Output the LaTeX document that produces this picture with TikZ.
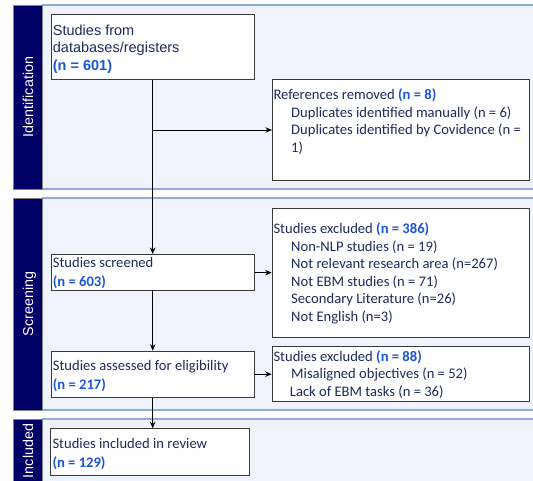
\documentclass[tikz,border=0pt]{standalone}
\usepackage{fontspec}
\setmainfont{Carlito}
\newfontfamily\arialf{Liberation Sans}
\usetikzlibrary{arrows.meta}
\definecolor{navy}{HTML}{000066}
\definecolor{txtc}{HTML}{1F2A5C}
\definecolor{numc}{HTML}{1A56DB}
\definecolor{panelfill}{HTML}{EFF4FC}
\definecolor{panelline}{HTML}{8FAADC}
\definecolor{boxline}{HTML}{3A3A3A}
\newcommand{\nb}[1]{\textbf{\color{numc}#1}}
\newcommand{\fs}{\rule{0pt}{12pt}}
\newcommand{\ind}{\hspace*{17.7pt}}
\begin{document}
\begin{tikzpicture}[x=1pt,y=-1pt,
  panel/.style={fill=panelfill,draw=none},
  pline/.style={draw=panelline,line width=1.2pt},
  side/.style={fill=navy,draw=gray,line width=0.6pt},
  sidelabel/.style={rotate=90,text=white,font=\arialf\fontsize{14.3}{17}\selectfont,text height=10.3pt,text depth=0pt,inner sep=0pt},
  box/.style={draw=boxline,fill=white,line width=1pt,anchor=north west,inner sep=0pt},
  txt/.style={anchor=north west,inner sep=0pt,align=left,text=txtc,font=\fontsize{14.6}{17.5}\selectfont},
  txttwo/.style={txt,font=\fontsize{14.6}{19}\selectfont},
  arialtxt/.style={txt,font=\arialf\fontsize{14.5}{17.5}\selectfont},
  arr/.style={draw=black,line width=0.9pt,-{Stealth[length=6.5pt,width=5.5pt]}}]
\useasboundingbox (0,0) rectangle (533,481);
% panels
\fill[panel] (42,5) rectangle (533,189);
\draw[pline] (42,5) -- (533,5);
\draw[pline] (42,189) -- (533,189);
\fill[panel] (42,198) rectangle (533,410);
\draw[pline] (42,198) -- (533,198);
\draw[pline] (42,410) -- (533,410);
\fill[panel] (42,419) rectangle (533,485);
\draw[pline] (42,419) -- (533,419);
% sidebars
\draw[side] (13.5,5) rectangle (42,189);
\draw[side] (13.5,198) rectangle (42,410);
\draw[side] (13.5,419) rectangle (42,486);
\node[sidelabel] (lid) at (28,97) {Identification};
\node[sidelabel] (lsc) at (28,304) {Screening};
\node[sidelabel] (lin) at (28,451) {Included};
% boxes
\node[box,minimum width=203pt,minimum height=64.7pt] (b1) at (50.7,14.3) {};
\node[box,minimum width=257.3pt,minimum height=101pt] (refs) at (272,79) {};
\node[box,minimum width=203pt,minimum height=36.3pt] (scr) at (50.7,254) {};
\node[box,minimum width=257.6pt,minimum height=129pt] (ex1) at (271.7,207.7) {};
\node[box,minimum width=203pt,minimum height=46pt] (ass) at (50.7,350.7) {};
\node[box,minimum width=257.6pt,minimum height=55.3pt] (ex2) at (271.7,345.7) {};
\node[box,minimum width=198.7pt,minimum height=46.7pt] (inc) at (50,428.3) {};
% texts
\node[arialtxt] (t1) at (52.7,23) {\fs Studies from\\databases/registers\\\nb{(n = 601)}};
\node[txt] (t2) at (273.3,87.5) {\fs References removed \nb{(n = 8)}\\
 \ind Duplicates identified manually (n = 6)\\
 \ind Duplicates identified by Covidence (n =\\
 \ind 1)};
\node[txttwo] (t3) at (52.7,255.8) {\fs Studies screened\\\nb{(n = 603)}};
\node[txt] (t4) at (273.3,221.5) {\fs Studies excluded \nb{(n = 386)}\\
 \ind Non-NLP studies (n = 19)\\
 \ind Not relevant research area (n=267)\\
 \ind Not EBM studies (n = 71)\\
 \ind Secondary Literature (n=26)\\
 \ind Not English (n=3)};
\node[txttwo] (t5) at (52.7,358.2) {\fs Studies assessed for eligibility\\\nb{(n = 217)}};
\node[txt] (t6) at (273.3,349.2) {\fs Studies excluded \nb{(n = 88)}\\
 \ind Misaligned objectives (n = 52)\\
 \hspace*{16.4pt}Lack of EBM tasks (n = 36)};
\node[txttwo] (t7) at (52.3,435.8) {\fs Studies included in review\\\nb{(n = 129)}};
% connectors
\draw[arr] (b1.south) -- (scr.north);
\draw[arr] (b1.south |- refs.west) -- (refs.west);
\draw[arr] (scr.east) -- (scr.east -| ex1.west);
\draw[arr] (scr.south) -- (ass.north);
\draw[arr] (ass.east) -- (ass.east -| ex2.west);
\draw[arr] (ass.south) -- (ass.south |- inc.north);
\end{tikzpicture}
\end{document}
